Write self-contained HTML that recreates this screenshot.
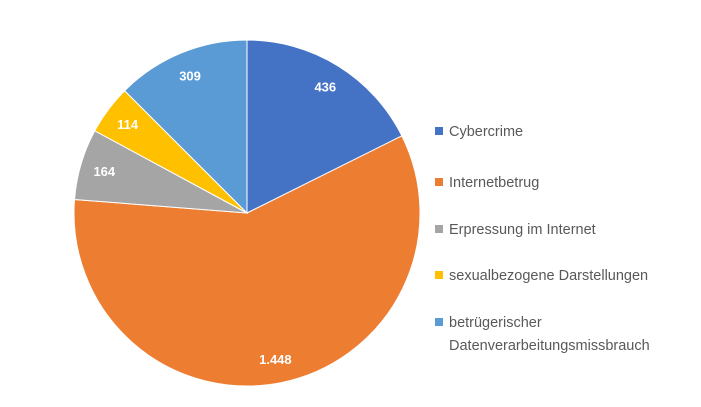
<!DOCTYPE html>
<html><head><meta charset="utf-8"><style>
html,body{margin:0;padding:0;background:#fff;}
svg{display:block;font-family:"Liberation Sans",sans-serif;}
</style></head><body>
<svg id="chart" width="701" height="407"></svg>
<script>
const categories=["Cybercrime","Internetbetrug","Erpressung im Internet","sexualbezogene Darstellungen","betrügerischer Datenverarbeitungsmissbrauch"];
const values=[436,1448,164,114,309];
const valueLabels=["436","1.448","164","114","309"];
const colors=["#4472C4","#ED7D31","#A5A5A5","#FFC000","#5B9BD5"];
const legendLines=[["Cybercrime"],["Internetbetrug"],["Erpressung im Internet"],["sexualbezogene Darstellungen"],["betrügerischer","Datenverarbeitungsmissbrauch"]];
const NS="http://www.w3.org/2000/svg";
const svg=document.getElementById("chart");
const cx=247,cy=213,R=173;
const total=values.reduce((a,b)=>a+b,0);
function pt(a,r){return [cx+r*Math.sin(a),cy-r*Math.cos(a)];}
let acc=0;
values.forEach((v,i)=>{
  const a0=acc/total*2*Math.PI; acc+=v; const a1=acc/total*2*Math.PI;
  const p0=pt(a0,R),p1=pt(a1,R);
  const path=document.createElementNS(NS,"path");
  path.setAttribute("d",`M${cx},${cy}L${p0[0]},${p0[1]}A${R},${R} 0 ${a1-a0>Math.PI?1:0} 1 ${p1[0]},${p1[1]}Z`);
  path.setAttribute("fill",colors[i]);
  path.setAttribute("stroke","#fff");
  path.setAttribute("stroke-width","1");
  
  
  svg.appendChild(path);
});
acc=0;
values.forEach((v,i)=>{
  const am=(acc+v/2)/total*2*Math.PI; acc+=v;
  const p=pt(am,R*0.86);
  const t=document.createElementNS(NS,"text");
  t.setAttribute("x",p[0]);t.setAttribute("y",p[1]+5);
  t.setAttribute("text-anchor","middle");t.setAttribute("fill","#fff");
  t.setAttribute("font-size","13");t.setAttribute("font-weight","bold");
  t.textContent=valueLabels[i];
  
  
  svg.appendChild(t);
});
const ly=[131,182,229,275,322];
legendLines.forEach((lines,i)=>{
  const g=document.createElementNS(NS,"g");
  
  
  const r=document.createElementNS(NS,"rect");
  r.setAttribute("x",435);r.setAttribute("y",ly[i]-4);r.setAttribute("width",8);r.setAttribute("height",8);
  r.setAttribute("fill",colors[i]);
  g.appendChild(r);
  lines.forEach((s,j)=>{
    const t=document.createElementNS(NS,"text");
    t.setAttribute("x",449);t.setAttribute("y",ly[i]+5+j*23);
    t.setAttribute("font-size","14.5");t.setAttribute("fill","#595959");
    t.textContent=s;
    g.appendChild(t);
  });
  svg.appendChild(g);
});
</script>
</body></html>
